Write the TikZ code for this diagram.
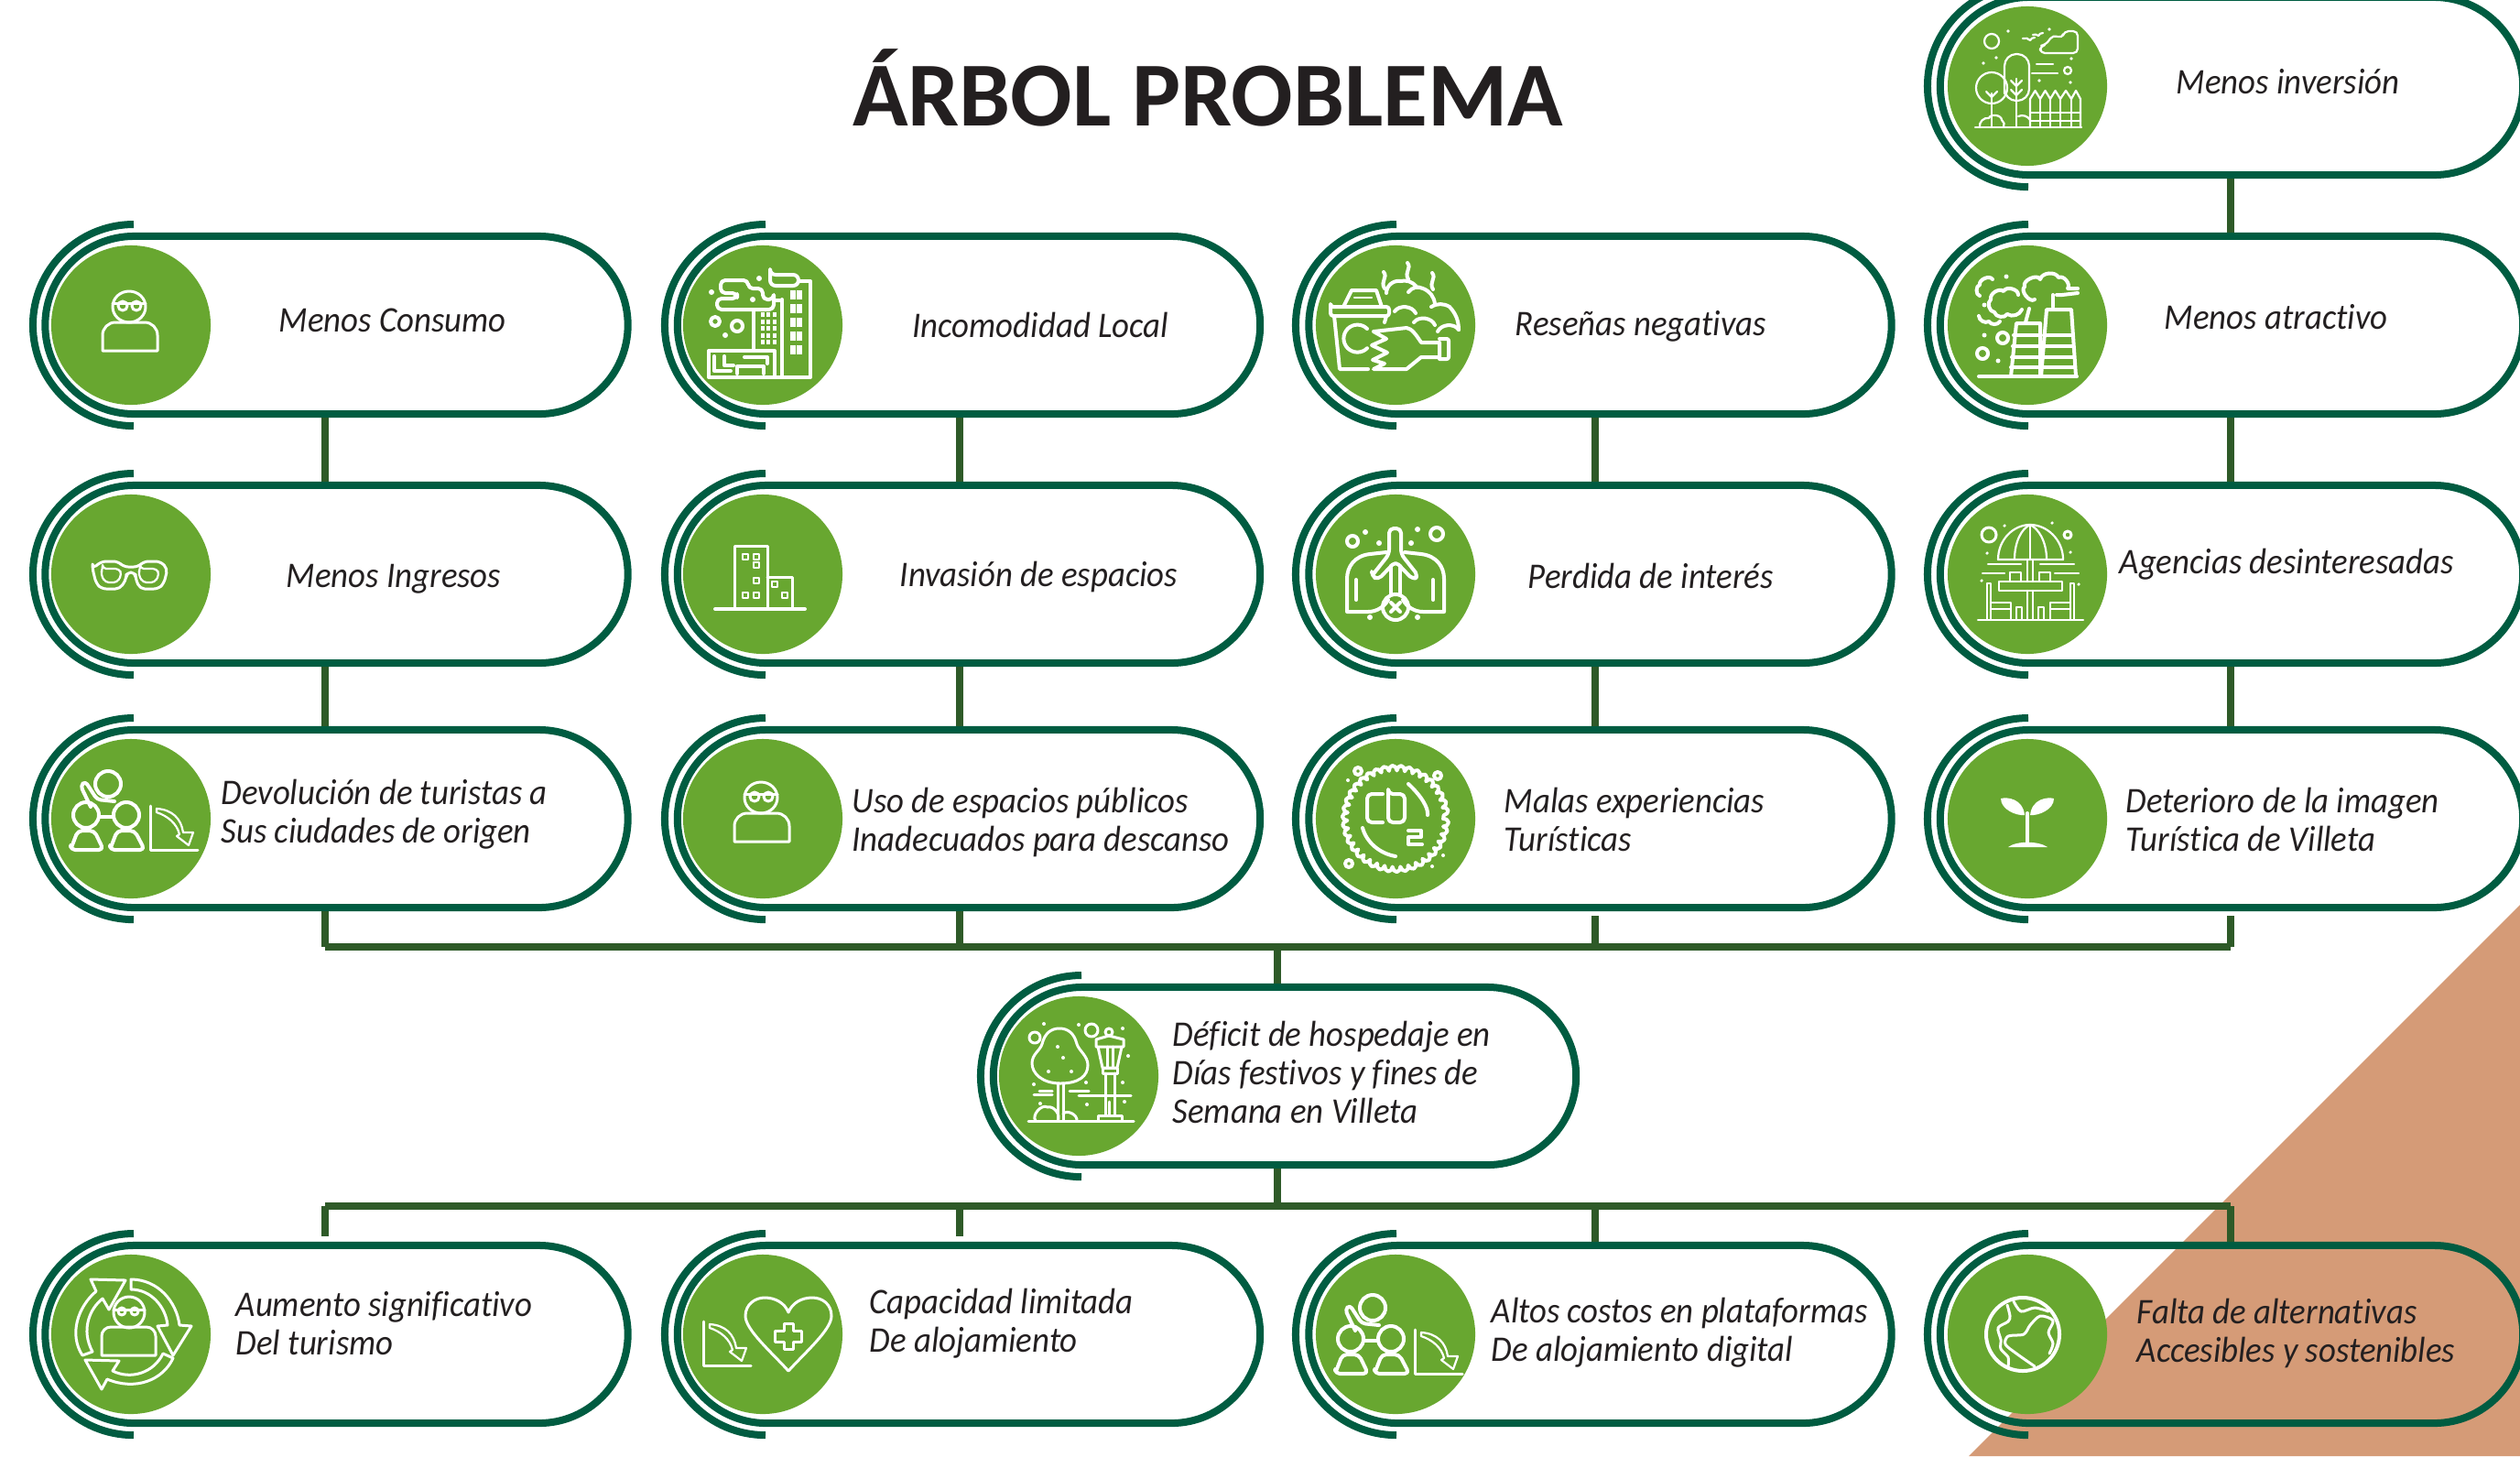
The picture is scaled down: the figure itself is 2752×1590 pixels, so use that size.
\documentclass[tikz,border=0pt]{standalone}
\usepackage{fontspec}
\setmainfont{Carlito}
\newfontfamily\cardfont{Carlito}[FakeStretch=0.935,Ligatures=NoCommon]
\usetikzlibrary{decorations.pathmorphing,shapes.misc}

\definecolor{pillgreen}{HTML}{005C41}
\definecolor{linkgreen}{HTML}{2E5A28}
\definecolor{discgreen}{HTML}{68A730}
\definecolor{salmon}{HTML}{D59B77}
\definecolor{inkblack}{HTML}{231F20}

\tikzset{
	pill/.style={draw=pillgreen,line width=0.08cm,rounded rectangle,minimum width=6.36cm,minimum height=1.94cm,inner sep=0pt},
	halo/.style={draw=pillgreen,line width=0.08cm},
	disc/.style={circle,fill=discgreen,minimum size=1.74cm,inner sep=0pt},
	link/.style={draw=linkgreen,line width=0.08cm},
	cardtext/.style={anchor=base west,inner sep=0pt,align=left,text=inkblack,font=\cardfont\fontsize{11.2}{11.9}\selectfont\itshape},
	ico/.style={draw=white,line width=0.04cm,line join=round,line cap=round},
	icomid/.style={draw=white,line width=0.03cm,line join=round,line cap=round},
	icothin/.style={draw=white,line width=0.022cm,line join=round,line cap=round}
}

\newcommand{\personicon}{
	\draw[icomid] (-31,28) [rounded corners=0.14cm] to (-31,-3) to (29,-3) [sharp corners] to (29,28) to cycle;
	\draw[icomid] (-2,-20) ellipse (18 and 17);
	\draw[icomid] (-20,-24) to (16,-24);
	\draw[icomid] (-9,-21) circle (5);
	\draw[icomid] (6,-21) circle (5);
}
\newcommand{\charticon}{
	\draw[icomid] (21,-14) to (21,34) to (73,34);
	\draw[icothin] (28,-11) .. controls (45,-10) and (55,0) .. (57,15) to (68,15) to (63,29) to (50,19) to (53,17) .. controls (50,5) and (40,-3) .. (28,-7) to cycle;
}
\newcommand{\groupicon}{
	\draw[ico,rounded corners=0.05cm] (-66,34) to (-58,13) to (-40,13) to (-30,34) to cycle;
	\draw[ico,rounded corners=0.05cm] (-23,34) to (-15,13) to (4,13) to (15,34) to cycle;
	\draw[ico,rounded corners=0.04cm] (-44,-13) to (-55,-36) to (-50,-41) to (-37,-21) to (-18,-19);
	\draw[ico] (-25,-38) circle (14);
	\draw[ico] (-49,-4) circle (14);
	\draw[ico] (-5,-4) circle (14);
	\draw[ico] (-35,-2) to (-19,-2);
	\charticon
}

\begin{document}
\begin{tikzpicture}[x=0.01cm,y=-0.01cm]
		\clip (0,0) rectangle (2752,1590);
		\fill[salmon] (2752,988) to (2752,1590) to (2150,1590) to cycle;
		\node[anchor=base,inner sep=0pt,text=inkblack,font=\fontsize{28.4}{30}\selectfont\bfseries] (titulo) at (1319,137) {ÁRBOL PROBLEMA};
		
		\coordinate (cola) at (355,1034);
		\coordinate (colb) at (1048,1034);
		\coordinate (colc) at (1742,1034);
		\coordinate (cold) at (2436,1034);
		\coordinate (cole) at (355,1317);
		\coordinate (colf) at (1048,1317);
		\coordinate (colg) at (1742,1317);
		\coordinate (colh) at (2436,1317);
		\coordinate (busup) at (1395,1034);
		\coordinate (busdn) at (1395,1317);
		
		\node[pill] (inversion) at (2437,94) {};
		\node[pill] (consumo) at (367.5,355) {};
		\node[pill] (incomodidad) at (1058,355) {};
		\node[pill] (resenas) at (1747.5,355) {};
		\node[pill] (atractivo) at (2437,355) {};
		\node[pill] (ingresos) at (367.5,627) {};
		\node[pill] (invasion) at (1058,627) {};
		\node[pill] (interes) at (1747.5,627) {};
		\node[pill] (agencias) at (2437,627) {};
		\node[pill] (devolucion) at (367.5,894) {};
		\node[pill] (uso) at (1058,894) {};
		\node[pill] (malas) at (1747.5,894) {};
		\node[pill] (deterioro) at (2437,894) {};
		\node[pill] (deficit) at (1403,1175) {};
		\node[pill] (aumento) at (367.5,1457) {};
		\node[pill] (capacidad) at (1058,1457) {};
		\node[pill] (altos) at (1747.5,1457) {};
		\node[pill] (falta) at (2437,1457) {};
		
		\draw[halo] (2215,-16) arc (90:270:1.1cm);
		\draw[halo] (146,245) arc (90:270:1.1cm);
		\draw[halo] (836,245) arc (90:270:1.1cm);
		\draw[halo] (1525,245) arc (90:270:1.1cm);
		\draw[halo] (2215,245) arc (90:270:1.1cm);
		\draw[halo] (146,517) arc (90:270:1.1cm);
		\draw[halo] (836,517) arc (90:270:1.1cm);
		\draw[halo] (1525,517) arc (90:270:1.1cm);
		\draw[halo] (2215,517) arc (90:270:1.1cm);
		\draw[halo] (146,784) arc (90:270:1.1cm);
		\draw[halo] (836,784) arc (90:270:1.1cm);
		\draw[halo] (1525,784) arc (90:270:1.1cm);
		\draw[halo] (2215,784) arc (90:270:1.1cm);
		\draw[halo] (1181,1065) arc (90:270:1.1cm);
		\draw[halo] (146,1347) arc (90:270:1.1cm);
		\draw[halo] (836,1347) arc (90:270:1.1cm);
		\draw[halo] (1525,1347) arc (90:270:1.1cm);
		\draw[halo] (2215,1347) arc (90:270:1.1cm);
		
		\draw[link] (cold |- inversion.south) to (cold |- atractivo.north);
		\draw[link] (cola |- consumo.south) to (cola |- ingresos.north);
		\draw[link] (colb |- incomodidad.south) to (colb |- invasion.north);
		\draw[link] (colc |- resenas.south) to (colc |- interes.north);
		\draw[link] (cold |- atractivo.south) to (cold |- agencias.north);
		\draw[link] (cola |- ingresos.south) to (cola |- devolucion.north);
		\draw[link] (colb |- invasion.south) to (colb |- uso.north);
		\draw[link] (colc |- interes.south) to (colc |- malas.north);
		\draw[link] (cold |- agencias.south) to (cold |- deterioro.north);
		\draw[link] (devolucion.south -| cola) to (cola);
		\draw[link] (uso.south -| colb) to (colb);
		\draw[link,shorten <=0.05cm] (malas.south -| colc) to (colc);
		\draw[link,shorten <=0.05cm] (deterioro.south -| cold) to (cold);
		\draw[link] (cola) to (cold);
		\draw[link] (busup) to (busup |- deficit.north);
		\draw[link] (busup |- deficit.south) to (busdn);
		\draw[link] (cole) to (colh);
		\draw[link,shorten >=0.06cm] (cole) to (cole |- aumento.north);
		\draw[link,shorten >=0.06cm] (colf) to (colf |- capacidad.north);
		\draw[link] (colg) to (colg |- altos.north);
		\draw[link] (colh) to (colh |- falta.north);
		
		\node[disc] (inversion-d) at (2214,94) {};
		\node[disc] (consumo-d) at (143,355) {};
		\node[disc] (incomodidad-d) at (833,355) {};
		\node[disc] (resenas-d) at (1524,355) {};
		\node[disc] (atractivo-d) at (2214,355) {};
		\node[disc] (ingresos-d) at (143,627) {};
		\node[disc] (invasion-d) at (833,627) {};
		\node[disc] (interes-d) at (1524,627) {};
		\node[disc] (agencias-d) at (2214,627) {};
		\node[disc] (devolucion-d) at (143,894) {};
		\node[disc] (uso-d) at (833,894) {};
		\node[disc] (malas-d) at (1524,894) {};
		\node[disc] (deterioro-d) at (2214,894) {};
		\node[disc] (deficit-d) at (1178,1175) {};
		\node[disc] (aumento-d) at (143,1457) {};
		\node[disc] (capacidad-d) at (833,1457) {};
		\node[disc] (altos-d) at (1524,1457) {};
		\node[disc] (falta-d) at (2214,1457) {};
		
		\node[cardtext] (inversion-t) at (2376,102) {Menos inversión};
		\node[cardtext] (consumo-t) at (304,362) {Menos Consumo};
		\node[cardtext] (incomodidad-t) at (996,368) {Incomodidad Local};
		\node[cardtext] (resenas-t) at (1654,366) {Reseñas negativas};
		\node[cardtext] (atractivo-t) at (2363,359) {Menos atractivo};
		\node[cardtext] (ingresos-t) at (312,641) {Menos Ingresos};
		\node[cardtext] (invasion-t) at (982,640) {Invasión de espacios};
		\node[cardtext] (interes-t) at (1668,642) {Perdida de interés};
		\node[cardtext] (agencias-t) at (2314,626) {Agencias desinteresadas};
		\node[cardtext] (devolucion-t) at (241,920) {Devolución de turistas a\\Sus ciudades de origen};
		\node[cardtext] (uso-t) at (930,929) {Uso de espacios públicos\\Inadecuados para descanso};
		\node[cardtext] (malas-t) at (1642,929) {Malas experiencias\\Turísticas};
		\node[cardtext] (deterioro-t) at (2321,929) {Deterioro de la imagen\\Turística de Villeta};
		\node[cardtext] (deficit-t) at (1280,1226) {Déficit de hospedaje en\\Días festivos y fines de\\Semana en Villeta};
		\node[cardtext] (aumento-t) at (257,1479) {Aumento significativo\\Del turismo};
		\node[cardtext] (capacidad-t) at (949,1476) {Capacidad limitada\\De alojamiento};
		\node[cardtext] (altos-t) at (1628,1486) {Altos costos en plataformas\\De alojamiento digital};
		\node[cardtext] (falta-t) at (2333,1487) {Falta de alternativas\\Accesibles y sostenibles};
		
		\begin{scope}[shift={(143,355)}]
			\personicon
		\end{scope}
		
		\begin{scope}[shift={(143,627)}]
			\draw[icomid,rounded corners=0.05cm] (-42,-6) to (-32,-14) to (-14,-14) to (-8,-8) to (8,-8) to (14,-14) to (32,-14) to (40,-6) to (36,10) to (30,16) to (10,16) to (5,5) to (5,-2) to (-5,-2) to (-5,5) to (-12,16) to (-32,16) to (-38,10) to cycle;
			\draw[icothin,rounded corners=0.04cm] (-31,-6) to (-13,-6) to (-10,0) to (-15,9) to (-28,9) to (-33,0) to cycle;
			\draw[icothin,rounded corners=0.04cm] (10,-6) to (28,-6) to (31,0) to (26,9) to (13,9) to (8,0) to cycle;
		\end{scope}
		
		\begin{scope}[shift={(833,355)}]
			\draw[ico] (21,-28) to (21,57);
			\draw[ico] (39,-48) to (52,-48) to (52,57) to (-59,57) to (-59,28) to (13,28) to (13,57);
			\draw[ico,rounded corners=0.06cm] (8,-55) to (39,-55) to (39,-43) to (8,-43) to cycle;
			\draw[ico] (14,-27) to (21,-27);
			\draw[white,line width=0.06cm,dash pattern=on 0.1cm off 0.05cm] (33,-38) to (33,34);
			\draw[white,line width=0.06cm,dash pattern=on 0.1cm off 0.05cm] (40,-38) to (40,34);
			\draw[white,line width=0.04cm,dash pattern=on 0.05cm off 0.025cm] (0,-14) to (0,22);
			\draw[white,line width=0.04cm,dash pattern=on 0.05cm off 0.025cm] (6,-14) to (6,22);
			\draw[white,line width=0.04cm,dash pattern=on 0.05cm off 0.025cm] (13,-14) to (13,22);
			\draw[ico] (-10,-17) to (-10,28);
			\draw[ico,rounded corners=0.05cm] (12,-28) to (0,-28) to (0,-40) to (-16,-40) to (-16,-49) to (-46,-49) to (-46,-35) to (-28,-35) to (-28,-29) to (-50,-29) to (-50,-17) to (12,-17) to cycle;
			\draw[ico] (-52,-4) circle (5);
			\draw[ico] (-28,1) circle (6);
			\fill[white] (-41,11) circle (3);
			\fill[white] (-56,-36) circle (3);
			\fill[white] (-4,-51) circle (3);
			\fill[white] (-11,-28) circle (3);
			\draw[ico] (-53,34) to (-53,50) to (-35,50);
			\draw[ico] (-42,34) to (-42,44) to (-32,44);
			\draw[ico] (-28,53) to (-28,45) to (1,45) to (1,53);
			\draw[ico] (-20,35) to (5,35) to (5,42);
		\end{scope}
		
		\begin{scope}[shift={(833,627)}]
			\draw[ico] (-52,38) to (46,38);
			\draw[icomid] (-31,38) to (-31,-31) to (5,-31) to (5,38);
			\draw[icomid] (5,3) to (32,3) to (32,38);
			\draw[icothin] (-22,-22) rectangle (-16,-16);
			\draw[icothin] (-10,-22) rectangle (-4,-16);
			\draw[icothin] (-10,-13) rectangle (-4,-7);
			\draw[icothin] (-10,4) rectangle (-4,10);
			\draw[icothin] (-22,20) rectangle (-16,26);
			\draw[icothin] (-10,20) rectangle (-4,26);
			\draw[icothin] (10,8) rectangle (16,14);
			\draw[icothin] (21,20) rectangle (27,26);
		\end{scope}
		
		\begin{scope}[shift={(1524,355)}]
			\draw[ico,rounded corners=0.03cm] (-71,-20) to (-7,-20) to (-7,-10) to (-71,-10) to cycle;
			\draw[ico] (-57,-20) to (-48,-38) to (-21,-38) to (-15,-20);
			\draw[icothin] (-45,-30) to (-26,-30);
			\draw[ico] (-67,-10) to (-61,48) to (-30,48);
			\draw[ico] (-10,-10) to (-12,-3);
			\draw[ico] (-31,4) arc (45:315:0.15cm);
			\draw[ico] (-24,7) to (-10,15) to (-26,22) to (-9,30) to (-25,38) to (-12,42) to (-24,48) to (12,48) to (28,35) to (48,35) to (48,19) to (28,19) .. controls (22,10) and (18,4) .. (12,3) to (-24,7);
			\draw[ico,rounded corners=0.02cm] (48,15) to (58,15) to (58,37) to (48,37);
			\draw[ico] (-10,-35) to [bend left=50] (5,-48) to [bend left=30] (23,-42);
			\draw[ico] (14,-36) to [bend left=40] (30,-40) to [bend left=30] (43,-23);
			\draw[ico] (39,-20) to [bend left=30] (59,-20) to [bend left=20] (69,5);
			\draw[ico] (-1,-15) to [bend left=60] (22,-13);
			\draw[ico] (20,-3) to [bend left=60] (43,0);
			\draw[ico] (46,7) to [bend left=60] (69,5);
			\draw[ico] (-13,-58) .. controls (-8,-52) and (-17,-48) .. (-12,-40);
			\draw[ico] (13,-68) .. controls (18,-62) and (9,-58) .. (14,-50);
			\draw[ico] (40,-57) .. controls (45,-51) and (36,-47) .. (41,-39);
		\end{scope}
		
		\begin{scope}[shift={(1524,627)}]
			\draw[ico,rounded corners=0.05cm] (-26,2) to (-7,-22) to (-7,-50) to (6,-50) to (6,-22) to (25,2) to (19,6) to (0,-14) to (-19,6) to cycle;
			\draw[ico] (-5,-9) to (-5,22);
			\draw[ico] (5,-9) to (5,22);
			\draw[ico] (-10,-24) to (-28,-22) .. controls (-45,-20) and (-53,-8) .. (-53,5) to (-53,41) to (-30,41) .. controls (-20,41) and (-12,35) .. (-8,28);
			\draw[ico] (10,-24) to (28,-22) .. controls (45,-20) and (53,-8) .. (53,5) to (53,41) to (30,41) .. controls (20,41) and (12,35) .. (8,28);
			\draw[ico] (0,36) circle (14);
			\draw[ico] (-5,31) to (5,41);
			\draw[ico] (5,31) to (-5,41);
			\draw[ico] (-43,6) to (-43,28);
			\draw[ico] (41,6) to (41,28);
			\draw[ico] (-47,-36) circle (6);
			\draw[ico] (45,-44) circle (7);
			\fill[white] (-33,-46) circle (3);
			\fill[white] (-18,-34) circle (3);
			\fill[white] (24,-49) circle (3);
			\fill[white] (17,-34) circle (3);
			\fill[white] (-28,47) circle (3);
			\fill[white] (24,47) circle (3);
		\end{scope}
		
		\begin{scope}[shift={(2214,94)}]
			\draw[icothin] (-57,45) to (59,45);
			\draw[icothin] (-39,-49) circle (8);
			\draw[icothin] (-5,-52) to [bend left=30] (3,-50) to [bend left=30] (8,-53);
			\draw[icothin] (6,-56) to [bend left=30] (12,-55) to [bend left=30] (17,-58);
			\draw[icothin,rounded corners=0.05cm] (14,-36) to (55,-36) to (55,-60) to (40,-60) to (38,-52) to (28,-56) to (20,-45) to (14,-44) to cycle;
			\draw[icothin] (-39,2) circle (17);
			\draw[icothin] (-39,8) to (-39,45);
			\draw[icothin] (-45,6) to (-39,12) to (-33,6);
			\draw[icothin,rounded corners=0.13cm] (-25,16) to (-25,-35) to (2,-35) to (2,16) to cycle;
			\draw[icothin] (-12,-8) to (-12,45);
			\draw[icothin] (-18,-6) to (-12,0) to (-6,-6);
			\draw[icothin] (-18,4) to (-12,10) to (-6,4);
			\draw[icothin] (3,45) to (3,14) to (8.5,5) to (14,14) to (19.5,5) to (25,14) to (30.5,5) to (36,14) to (42,5) to (48,14) to (53,5) to (58,14) to (58,45);
			\draw[icothin] (14,14) to (14,45);
			\draw[icothin] (25,14) to (25,45);
			\draw[icothin] (36,14) to (36,45);
			\draw[icothin] (48,14) to (48,45);
			\draw[icothin] (3,29) to (58,29);
			\draw[icothin] (3,38) to (58,38);
			\draw[icothin] (-52,45) to [bend left=60] (-42,35) to [bend left=80] (-28,37) to [bend left=40] (-26,45);
			\draw[icothin] (-10,33) to [bend left=40] (3,37);
			\draw[icothin] (10,-24) to (28,-24);
			\draw[icothin] (5,-14) to (33,-14);
			\draw[icothin] (44,-17) circle (4);
			\fill[white] (-21,-60) circle (1.8);
			\fill[white] (24,-62) circle (1.8);
			\fill[white] (-34,-31) circle (1.8);
			\fill[white] (-48,-25) circle (1.8);
			\fill[white] (48,-30) circle (1.8);
			\fill[white] (47,-4) circle (1.8);
			\fill[white] (13,-6) circle (1.8);
		\end{scope}
		
		\begin{scope}[shift={(2214,355)}]
			\draw[ico] (-53,56) to (54,56);
			\draw[ico] (-18,56) to (-12,-2) to (14,-2) to (14,56);
			\draw[ico] (15,56) to (21,-17) to (48,-17) to (53,56);
			\draw[ico] (-15,11) to (14,11);
			\draw[ico] (-16,23) to (14,23);
			\draw[ico] (-17,35) to (14,35);
			\draw[ico] (-18,46) to (14,46);
			\draw[ico] (18,11) to (49,11);
			\draw[ico] (17,23) to (50,23);
			\draw[ico] (17,35) to (51,35);
			\draw[ico] (16,46) to (52,46);
			\draw[ico] (8,-28) to [bend left=90] (-3,-42) to [bend left=90] (14,-50) to [bend left=70] (34,-52) to [bend left=80] (44,-40) to (55,-40);
			\draw[ico] (55,-35) to (38,-33) to (32,-33);
			\draw[ico] (28,-20) to (28,-33);
			\draw[ico] (-2,-3) to (2,-18);
			\draw[ico] (-10,-33) to [bend right=80] (-26,-37) to [bend right=70] (-40,-28) to [bend right=70] (-36,-14) to [bend right=70] (-22,-12) to [bend right=50] (-6,-17);
			\draw[ico] (-38,-50) to [bend right=80] (-52,-44) to [bend right=80] (-52,-32);
			\draw[ico] (-53,-10) to [bend right=60] (-42,-4) to [bend right=60] (-30,-4);
			\draw[ico] (-27,14) circle (6);
			\draw[ico] (-49,31) circle (6);
			\fill[white] (-23,-53) circle (2.5);
			\fill[white] (-47,-22) circle (2.5);
			\fill[white] (-47,11) circle (2.5);
			\fill[white] (-32,39) circle (2.5);
		\end{scope}
		
		\begin{scope}[shift={(2214,627)}]
			\draw[icothin] (-54,50) to (61,50);
			\draw[icothin] (-32,-16) .. controls (-32,-38) and (-15,-54) .. (3,-54) .. controls (21,-54) and (39,-38) .. (39,-16) to cycle;
			\draw[icothin] (-14,-16) .. controls (-14,-36) and (-6,-50) .. (3,-54) .. controls (12,-50) and (21,-36) .. (21,-16);
			\draw[icothin] (3,-54) to (3,-16);
			\draw[icothin] (0,-16) to (0,8);
			\draw[icothin] (6,-16) to (6,8);
			\draw[icothin] (0,18) to (0,50);
			\draw[icothin] (6,18) to (6,50);
			\draw[icothin] (-31,8) rectangle (38,18);
			\draw[icothin] (-12,50) to (-12,36) to (-6,36) to (-6,50);
			\draw[icothin] (12,50) to (12,36) to (18,36) to (18,50);
			\draw[icothin] (-44,50) to (-44,10) to (-40,10) to (-40,50);
			\draw[icothin] (-40,31) to (-18,31) to (-18,50);
			\draw[icothin] (-40,38) to (-18,38);
			\draw[icothin] (47,50) to (47,10) to (51,10) to (51,50);
			\draw[icothin] (47,31) to (25,31) to (25,50);
			\draw[icothin] (47,38) to (25,38);
			\draw[icothin] (-19,-2) rectangle (-7,8);
			\draw[icothin] (13,-2) rectangle (25,8);
			\draw[icothin] (-43,-11) to (-7,-11);
			\draw[icothin] (-49,-1) to (-25,-1);
			\draw[icothin] (14,-11) to (51,-11);
			\draw[icothin] (30,-1) to (56,-1);
			\draw[icomid] (-42,-43) circle (8);
			\draw[icomid] (44,-43) circle (4);
			\fill[white] (-25,-53) circle (1.8);
			\fill[white] (27,-56) circle (1.8);
			\fill[white] (-44,-23) circle (1.8);
			\fill[white] (47,-24) circle (1.8);
			\fill[white] (-50,7) circle (1.8);
			\fill[white] (56,11) circle (1.8);
		\end{scope}
		
		\begin{scope}[shift={(143,894)}]
			\groupicon
		\end{scope}
		
		\begin{scope}[shift={(833,891)}]
			\personicon
		\end{scope}
		
		\begin{scope}[shift={(1524,894)}]
			\draw[ico,decorate,decoration={bumps,segment length=0.17cm,amplitude=0.06cm}] (0,0) circle (52);
			\draw[ico] (14,-38) .. controls (28,-25) and (36,-12) .. (35,-4);
			\draw[ico] (-36,10) .. controls (-32,25) and (-18,38) .. (0,41);
			\draw[ico,rounded corners=0.05cm] (-14,-27) to (-31,-27) to (-31,4) to (-14,4);
			\draw[ico,rounded corners=0.05cm] (-8,-27) to (10,-27) to (10,4) to (-8,4) to cycle;
			\draw[ico] (14,13) to (28,13) to (28,20) to (14,20) to (14,28) to (29,28);
			\draw[ico] (-41,-52) circle (4);
			\draw[ico] (46,-47) circle (4);
			\draw[ico] (-51,49) circle (4);
			\fill[white] (-52,-42) circle (2);
			\fill[white] (52,40) circle (2);
			\fill[white] (40,52) circle (2);
		\end{scope}
		
		\begin{scope}[shift={(2214,894)}]
			\fill[white] (-3,-4) .. controls (-12,-3) and (-29,-10) .. (-29,-22) .. controls (-22,-24) and (-5,-22) .. (-3,-4);
			\fill[white] (3,-4) .. controls (12,-3) and (29,-10) .. (29,-22) .. controls (22,-24) and (5,-22) .. (3,-4);
			\draw[ico] (0,-6) to (0,28);
			\fill[white] (-21,31) .. controls (-12,24) and (12,24) .. (22,31) to cycle;
		\end{scope}
		
		\begin{scope}[shift={(1178,1175)}]
			\draw[icomid] (-55,49) to (60,49);
			\draw[icomid] (-20,8) .. controls (-40,8) and (-51,-3) .. (-51,-14) .. controls (-51,-24) and (-42,-28) .. (-40,-35) .. controls (-37,-47) and (-30,-52) .. (-21,-52) .. controls (-12,-52) and (-5,-47) .. (-2,-35) .. controls (0,-28) and (10,-22) .. (10,-12) .. controls (10,0) and (0,8) .. (-20,8);
			\draw[icomid] (-23,8) to (-23,49);
			\draw[icomid] (-17,8) to (-17,49);
			\draw[icomid] (-47,49) to [bend left=80] (-34,34) to [bend left=70] (-23,49);
			\draw[icomid] (-17,41) to [bend left=70] (-2,49);
			\draw[icomid] (-49,20) to (-29,20);
			\draw[icomid] (-43,16) to (-29,16);
			\draw[icomid] (-10,16) to (11,16);
			\draw[icomid] (0,21) to (57,21);
			\draw[icomid] (-48,-42) circle (6);
			\draw[icomid] (14,-50) circle (7);
			\draw[icomid] (33,-48) circle (4);
			\draw[icomid] (19,-40) to (33,-44) to (49,-40) to (49,-32) to (19,-32) to cycle;
			\draw[icomid] (21,-32) to (26,-9) to (42,-9) to (47,-32);
			\draw[icomid] (31,-32) to (31,-9);
			\draw[icomid] (37,-32) to (37,-9);
			\draw[icomid] (26,-9) rectangle (42,-3);
			\draw[icomid] (29,-3) to (29,43);
			\draw[icomid] (39,-3) to (39,43);
			\draw[icomid] (33,28) to (33,43);
			\draw[icomid] (21,49) to (21,43) to (47,43) to (47,49);
			\fill[white] (-38,-57) circle (2);
			\fill[white] (0,-56) circle (2);
			\fill[white] (48,-52) circle (2);
			\fill[white] (-23,-32) circle (2);
			\fill[white] (-17,-20) circle (2);
			\fill[white] (-33,-5) circle (2);
			\fill[white] (-8,-5) circle (2);
			\fill[white] (54,-22) circle (2);
			\fill[white] (8,7) circle (2);
			\fill[white] (48,7) circle (2);
			\fill[white] (-49,9) circle (2);
			\fill[white] (-42,30) circle (2);
			\fill[white] (9,31) circle (2);
			\fill[white] (50,28) circle (2);
		\end{scope}
		
		\begin{scope}[shift={(143,1457)}]
			\draw[icomid] (-32,23) [rounded corners=0.1cm] to (-32,-8) to (27,-8) [sharp corners] to (27,23) to cycle;
			\draw[icomid] (-2,-24) circle (17);
			\draw[icomid] (-10,-25) circle (4);
			\draw[icomid] (4,-25) circle (4);
			\draw[icomid] (-19,-27) to (15,-27);
			\draw[icomid] (-38,-47) to (-44,-60) to (-6,-59) to (-24,-27) to (-31,-39) .. controls (-45,-28) and (-55,-5) .. (-42,19) to (-53,23) .. controls (-68,0) and (-58,-30) .. (-38,-47) to cycle;
			\draw[icomid] (0,-60) .. controls (30,-60) and (50,-35) .. (53,-10) to (66,-9) to (46,23) to (29,-9) to (40,-10) .. controls (38,-30) and (22,-49) .. (0,-49) to cycle;
			\draw[icomid] (-13,29) to (-20,40) .. controls (0,50) and (25,42) .. (35,21) to (46,26) .. controls (35,50) and (5,62) .. (-26,49) to (-32,60) to (-50,28) to cycle;
		\end{scope}
		
		\begin{scope}[shift={(833,1457)}]
			\draw[icomid] (28,40) .. controls (10,20) and (-19,-5) .. (-19,-20) .. controls (-19,-33) and (-8,-40) .. (2,-40) .. controls (14,-40) and (24,-34) .. (28,-24) .. controls (32,-34) and (42,-40) .. (54,-40) .. controls (65,-40) and (75,-33) .. (75,-20) .. controls (75,-5) and (46,20) .. (28,40);
			\draw[icomid] (23,-12) to (33,-12) to (33,-4) to (42,-4) to (42,8) to (33,8) to (33,16) to (23,16) to (23,8) to (13,8) to (13,-4) to (23,-4) to cycle;
		\end{scope}
		\begin{scope}[shift={(747,1457)}]
			\charticon
		\end{scope}
		
		\begin{scope}[shift={(1524,1466)}]
			\groupicon
		\end{scope}
		
		\begin{scope}[shift={(2214,1457)}]
			\draw[ico] (-5,0) circle (40);
			\draw[icomid] plot[smooth] coordinates {(-22,-32) (-19,-20) (-21,-14) (-32,-7) (-29,6) (-29,16) (-21,25) (-21,35)};
			\draw[icomid] plot[smooth] coordinates {(-15,-36) (-7,-25) (8,-29) (23,-25)};
			\draw[icomid] plot[smooth] coordinates {(8,35) (-12,21) (-24,11) (-21,2) (-4,0) (3,-10) (14,-20) (28,-15) (23,-2) (28,10) (24,21)};
		\end{scope}
	\end{tikzpicture}
\end{document}
